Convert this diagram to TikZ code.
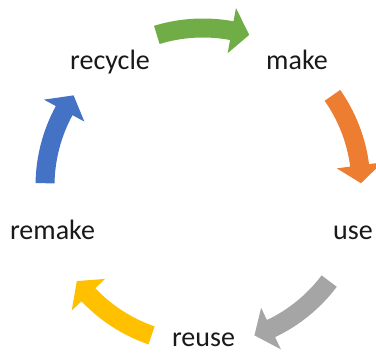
\documentclass[tikz,border=0pt]{standalone}
\usepackage{fontspec}
\setmainfont{Carlito}
\usepackage{tikz}

\definecolor{arrgreen}{HTML}{70AD47}
\definecolor{arrorange}{HTML}{ED7D31}
\definecolor{arrgray}{HTML}{A5A5A5}
\definecolor{arryellow}{HTML}{FFC000}
\definecolor{arrblue}{HTML}{4472C4}

\begin{document}
\begin{tikzpicture}[x=1pt,y=1pt,
	word/.style={anchor=base,inner sep=0pt,text=black!90,font=\fontsize{28}{34}\selectfont}]
	
	\useasboundingbox (0,0) rectangle (376,353);
	
	\node[word] (rc) at (110,283) {recycle};
	
	\node[word] (mk) at (297,283) {make};
	
	\node[word] (us) at (353,113) {use};
	
	\node[word] (rm) at (52.5,113) {remake};
	
	\node[word] (ru) at (203.5,6) {reuse};
	
	% curved arrows round the cycle, clockwise
	\begin{scope}[shift={(203,167)}]
		\foreach \c/\col in {90/arrgreen,18/arrorange,-54/arrgray,-126/arryellow,162/arrblue}{
			\pgfmathsetmacro\a{\c+17}
			\pgfmathsetmacro\b{\c-10.5}
			\pgfmathsetmacro\t{\c-17}
			\fill[\col] (\a:167.5) arc[start angle=\a,end angle=\b,radius=167.5]
				-- (\b:181) -- (\t:158) -- (\b:135) -- (\b:148.5)
				arc[start angle=\b,end angle=\a,radius=148.5] -- cycle;
		}
	\end{scope}
	
\end{tikzpicture}
\end{document}
